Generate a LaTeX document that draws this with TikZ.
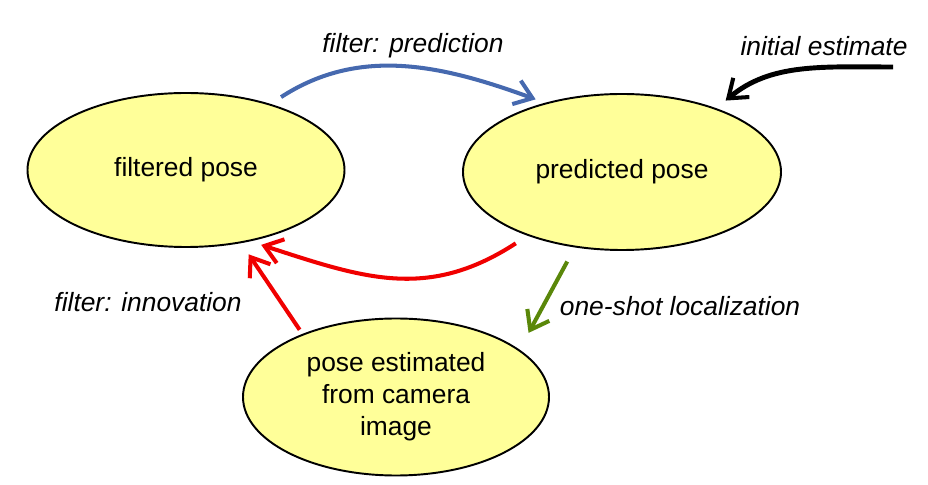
\documentclass[tikz,border=0pt]{standalone}
\usepackage{fontspec}
\setmainfont{Liberation Sans}
\definecolor{PoseFill}{RGB}{255,255,153}
\definecolor{ArrowBlue}{RGB}{70,105,175}
\definecolor{ArrowRed}{RGB}{240,0,0}
\definecolor{ArrowGreen}{RGB}{90,135,10}
\usetikzlibrary{arrows.meta, shapes.geometric}
\tikzset{
    pose/.style={
        ellipse, draw=black, line width=1.1pt, fill=PoseFill, inner sep=0pt,
        align=center, font=\fontsize{15}{18.2}\selectfont
    },
    flow/.style={line width=2.3pt,
        -{Straight Barb[length=3.4mm, width=5mm, line width=2.3pt]}},
    flow label/.style={font=\fontsize{15}{18}\selectfont\itshape}
}

\begin{document}
\begin{tikzpicture}

    \useasboundingbox (0,0) rectangle (18.56,9.70);

    \node [pose, minimum width=6.34cm, minimum height=3.08cm] (filtered) at (3.72,6.30) {filtered pose};
    \node [pose, minimum width=6.36cm, minimum height=3.12cm] (predicted) at (12.44,6.26) {predicted pose};
    \node [pose, minimum width=6.12cm, minimum height=3.14cm] (estimated) at (7.92,1.76)
        {pose estimated\\from camera\\image};

    \coordinate (start) at (17.86,8.36);

    % Filter loop
    \draw [flow, ArrowBlue, shorten <=0.25cm, shorten >=0.20cm]
        (filtered.38) to [out=33, in=160] (predicted.138);
    \draw [flow, ArrowRed, shorten <=0.28cm, shorten >=0.23cm]
        (predicted.214) to [out=213, in=-18, looseness=1.1] (filtered.-48);
    \draw [flow, ArrowRed, shorten <=0.10cm, shorten >=0.27cm]
        (estimated.146) -- (filtered.-53);

    % Initialisation and localisation
    \draw [flow, black, line width=2.8pt, shorten >=0.24cm]
        (start) to [out=180, in=40] (predicted.34);
    \draw [flow, ArrowGreen, shorten <=0.32cm, shorten >=0.38cm]
        (predicted.-122) -- (estimated.21);

    \node [flow label] (prediction) at (8.26,8.78) {filter: prediction};
    \node [flow label] (initial) at (16.48,8.78) {initial estimate};
    \node [flow label] (innovation) at (2.96,3.66) {filter: innovation};
    \node [flow label] (oneshot) at (13.60,3.58) {one-shot localization};

\end{tikzpicture}
\end{document}
